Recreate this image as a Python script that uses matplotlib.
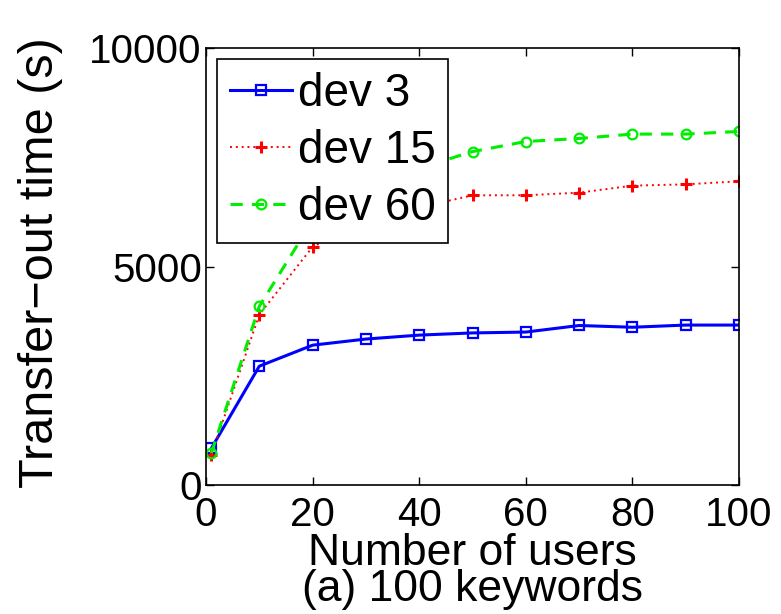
import matplotlib
matplotlib.use("Agg")
import matplotlib.pyplot as plt

# Data: transfer-out time vs number of users, 100 keywords
users = [1, 10, 20, 30, 40, 50, 60, 70, 80, 90, 100]
dev3 = [840, 2720, 3200, 3340, 3430, 3480, 3500, 3650, 3610, 3660, 3660]
dev15 = [690, 3900, 5450, 6050, 6350, 6630, 6630, 6690, 6850, 6880, 6950]
dev60 = [730, 4090, 6050, 6800, 7250, 7630, 7860, 7930, 8030, 8030, 8090]
labels = ["dev 3", "dev 15", "dev 60"]
xticks = [0, 20, 40, 60, 80, 100]
yticks = [0, 5000, 10000]

plt.rcParams["font.family"] = ["Liberation Sans", "DejaVu Sans"]
tick_fs = 29
label_fs = 32
legend_fs = 33
ylabel_fs = 35

fig = plt.figure(figsize=(7.81, 6.14), dpi=100)
ax = fig.add_axes([0.2638, 0.2101, 0.9462 - 0.2638, 0.9218 - 0.2101])

ax.plot(users, dev3, color="#0000ff", linestyle="-", linewidth=2.2,
        marker="s", markersize=6.5, markerfacecolor="none", markeredgewidth=1.6,
        label=labels[0])
ax.plot(users, dev15, color="#ff0000", linestyle=(0, (1, 2)), linewidth=1.4,
        marker="+", markersize=9, markeredgewidth=2.2, label=labels[1])
ax.plot(users, dev60, color="#00ee00", linestyle=(0, (4, 3)), linewidth=2.2,
        marker="o", markersize=7, markerfacecolor="none", markeredgewidth=1.6,
        label=labels[2])

ax.set_xlim(0, 100)
ax.set_ylim(0, 10000)
ax.set_xticks(xticks)
ax.set_yticks(yticks)
ax.tick_params(direction="in", length=6, width=1, top=True, right=True,
               labelsize=tick_fs)
ax.tick_params(axis="x", pad=8)
ax.tick_params(axis="y", pad=3)
for s in ax.spines.values():
    s.set_linewidth(1.2)

ax.set_ylabel("Transfer\u2212out time (s)", fontsize=ylabel_fs)
ax.yaxis.set_label_coords(-0.268, 0.51)
ax.set_xlabel("Number of users\n(a) 100 keywords", fontsize=label_fs,
              labelpad=-1, linespacing=0.84)

leg = ax.legend(loc="upper left", fontsize=legend_fs, handlelength=1.35,
                handletextpad=0.12, borderpad=0.28, labelspacing=0.28,
                borderaxespad=0.25, fancybox=False, framealpha=1,
                edgecolor="black")
leg.get_frame().set_linewidth(1.2)

fig.savefig("out.png", dpi=100)
